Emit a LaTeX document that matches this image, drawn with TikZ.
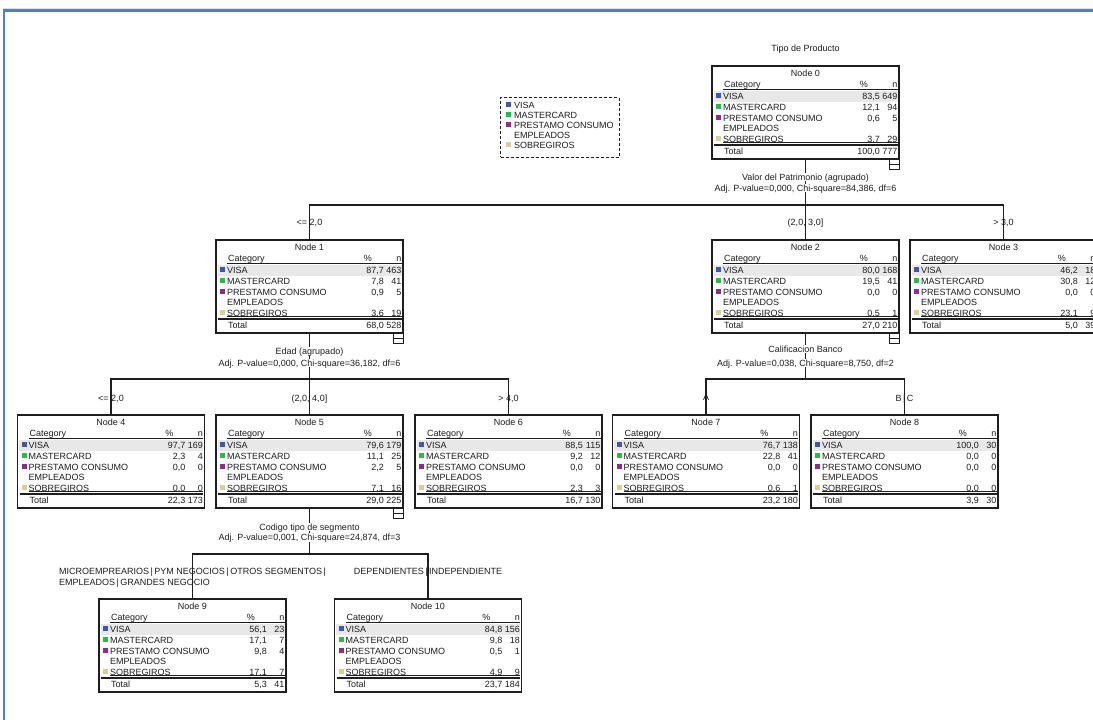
\documentclass[tikz,border=0pt]{standalone}
\usepackage{fontspec}
\setmainfont{Liberation Sans}
\usetikzlibrary{calc,positioning}
\definecolor{frame}{RGB}{79,129,189}
\definecolor{framelite}{RGB}{214,224,238}
\definecolor{ink}{RGB}{30,30,30}
\definecolor{band}{RGB}{232,232,232}
\definecolor{visa}{RGB}{62,88,172}
\definecolor{master}{RGB}{46,184,72}
\definecolor{prest}{RGB}{142,44,138}
\definecolor{sobre}{RGB}{214,208,156}
\tikzset{treebox/.style={draw=ink,line width=1.1pt,fill=white,minimum width=187pt,minimum height=93pt,
 anchor=north,inner sep=0pt,outer sep=0pt},
 cell/.style={font=\fontsize{9}{10}\selectfont,text=ink,inner sep=0pt,text height=6.5pt,text depth=0pt},
 rule/.style={draw=ink,line width=0.9pt},
 treeline/.style={draw=ink,line width=1.1pt},
 toggle/.style={draw=ink,line width=1pt,minimum size=10pt,inner sep=0pt,outer sep=0pt,anchor=north east}}
% one value row: node, offset from the top, percent, count
\newcommand{\tnvals}[4]{\node[cell,anchor=east] at ($(#1.north west)+(168,#2)$) {#3};
 \node[cell,anchor=east] at ($(#1.north west)+(185.5,#2)$) {#4};}
% name, position, number, four category rows and the total as {pct}{n}
\newcommand{\treenode}[8]{%
 \node[treebox] (#1) at (#2) {};
 \fill[band] ($(#1.north west)+(1.5,24.5)$) rectangle ($(#1.north east)+(-1.5,35.5)$);
 \node[cell] (#1-head) at ($(#1.north)+(0,7.5)$) {Node #3};
 \node[cell,anchor=west] (#1-cat) at ($(#1.north west)+(12,18)$) {Category};
 \node[cell,anchor=east] at ($(#1.north west)+(156,18)$) {\%};
 \node[cell,anchor=east] at ($(#1.north west)+(185.5,18)$) {n};
 \draw[rule] ($(#1.north west)+(11,23)$) -- ($(#1.north west)+(185.5,23)$);
 \foreach \lab/\dy/\col in {VISA/30/visa,MASTERCARD/41/master,PRESTAMO CONSUMO/52/prest,SOBREGIROS/73/sobre}{
  \fill[fill=\col] ($(#1.north west)+(4,\dy-3.5)$) rectangle +(5,5);
  \node[cell,anchor=west] at ($(#1.north west)+(11,\dy)$) {\lab};}
 \node[cell,anchor=west] at ($(#1.north west)+(11,62.5)$) {EMPLEADOS};
 \tnvals{#1}{30}#4 \tnvals{#1}{41}#5 \tnvals{#1}{52}#6 \tnvals{#1}{73}#7
 \draw[line width=0.7pt,draw=ink] ($(#1.north west)+(11,76.5)$) -- ($(#1.north west)+(185.5,76.5)$);
 \draw[rule,line width=1.3pt] ($(#1.north west)+(2,79)$) -- ($(#1.north west)+(185.5,79)$);
 \node[cell,anchor=west] at ($(#1.north west)+(12,85.5)$) {Total};
 \tnvals{#1}{85.5}#8}
\newcommand{\tntoggle}[1]{\node[toggle] (#1-tg) at (#1.south east) {};
 \draw[rule] (#1-tg.west) -- (#1-tg.east);}

\begin{document}
\begin{tikzpicture}[x=1pt,y=-1pt]
\useasboundingbox (0,0) rectangle (1093,720);
\clip (0,0) rectangle (1093,720);
\fill[white] (0,0) rectangle (1093,720);
% window frame
\draw[framelite,line width=0.8pt] (3,8.2) -- (1093,8.2);
\draw[frame,line width=2.4pt] (3,10.5) -- (1093,10.5);
\draw[frame,line width=1.9pt] (4.2,9.5) -- (4.2,720);

% legend
\node[draw=ink,dash pattern=on 3pt off 2pt,line width=1pt,minimum width=118.5pt,minimum height=59.5pt,
 anchor=north west,inner sep=0pt,outer sep=0pt] (legend) at (500.5,97.5) {};
\foreach \lab/\dy/\col in {VISA/7.5/visa,MASTERCARD/18/master,PRESTAMO CONSUMO/27.5/prest,SOBREGIROS/48/sobre}{
 \fill[fill=\col] ($(legend.north west)+(5.5,\dy-3.5)$) rectangle +(5,5);
 \node[cell,anchor=west] at ($(legend.north west)+(13.5,\dy)$) {\lab};}
\node[cell,anchor=west] at ($(legend.north west)+(13.5,37.5)$) {EMPLEADOS};

% tree nodes
\treenode{n0}{805.5,66}{0}{{83,5}{649}}{{12,1}{94}}{{0,6}{5}}{{3,7}{29}}{{100,0}{777}}
\treenode{n1}{309.5,240}{1}{{87,7}{463}}{{7,8}{41}}{{0,9}{5}}{{3,6}{19}}{{68,0}{528}}
\treenode{n2}{805.5,240}{2}{{80,0}{168}}{{19,5}{41}}{{0,0}{0}}{{0,5}{1}}{{27,0}{210}}
\treenode{n3}{1003.5,240}{3}{{46,2}{18}}{{30,8}{12}}{{0,0}{0}}{{23,1}{9}}{{5,0}{39}}
\treenode{n4}{111,415}{4}{{97,7}{169}}{{2,3}{4}}{{0,0}{0}}{{0,0}{0}}{{22,3}{173}}
\treenode{n5}{309.5,415}{5}{{79,6}{179}}{{11,1}{25}}{{2,2}{5}}{{7,1}{16}}{{29,0}{225}}
\treenode{n6}{508.5,415}{6}{{88,5}{115}}{{9,2}{12}}{{0,0}{0}}{{2,3}{3}}{{16,7}{130}}
\treenode{n7}{706,415}{7}{{76,7}{138}}{{22,8}{41}}{{0,0}{0}}{{0,6}{1}}{{23,2}{180}}
\treenode{n8}{904.5,415}{8}{{100,0}{30}}{{0,0}{0}}{{0,0}{0}}{{0,0}{0}}{{3,9}{30}}
\treenode{n9}{192.5,599}{9}{{56,1}{23}}{{17,1}{7}}{{9,8}{4}}{{17,1}{7}}{{5,3}{41}}
\treenode{n10}{428,599}{10}{{84,8}{156}}{{9,8}{18}}{{0,5}{1}}{{4,9}{9}}{{23,7}{184}}
\tntoggle{n0}\tntoggle{n1}\tntoggle{n2}\tntoggle{n5}

% splits
\coordinate (b0) at ($(n0.south)+(0,46)$);
\coordinate (b1) at ($(n1.south)+(0,46)$);
\coordinate (b2) at ($(n2.south)+(0,46)$);
\coordinate (b5) at ($(n5.south)+(0,46)$);
\draw[treeline] (n0.south) -- (b0) (n1.north) |- (b0) -| (n3.north) (b0) -- (n2.north);
\draw[treeline] (n1.south) -- (b1) (n4.north) |- (b1) -| (n6.north) (b1) -- (n5.north);
\draw[treeline] (n2.south) -- (b2) (n7.north) |- (b2) -| (n8.north);
\draw[treeline] (n5.south) -- (b5) (n9.north) |- (b5) -| (n10.north);

\node[cell] (title) at ($(n0.north)+(0,-18)$) {Tipo de Producto};
\node[cell,fill=white,inner sep=1pt] (s0) at ($(n0.south)+(0,18)$) {Valor del Patrimonio (agrupado)};
\node[cell,fill=white,inner sep=1pt] (t0) at ($(n0.south)+(0,29)$) {Adj. P-value=0,000, Chi-square=84,386, df=6};
\node[cell,fill=white,inner sep=1pt] (s1) at ($(n1.south)+(0,18)$) {Edad (agrupado)};
\node[cell,fill=white,inner sep=1pt] (t1) at ($(n1.south)+(0,30)$) {Adj. P-value=0,000, Chi-square=36,182, df=6};
\node[cell,fill=white,inner sep=1pt] (s2) at ($(n2.south)+(0,16)$) {Calificacion Banco};
\node[cell,fill=white,inner sep=1pt] (t2) at ($(n2.south)+(0,30)$) {Adj. P-value=0,038, Chi-square=8,750, df=2};
\node[cell,fill=white,inner sep=1pt] (s5) at ($(n5.south)+(0,19)$) {Codigo tipo de segmento};
\node[cell,fill=white,inner sep=1pt] (t5) at ($(n5.south)+(0,29.5)$) {Adj. P-value=0,001, Chi-square=24,874, df=3};

% branch labels
\node[cell] (l1) at ($(n1.north)+(0,-18)$) {<= 2,0};
\node[cell] (l2) at ($(n2.north)+(0,-18)$) {(2,0, 3,0]};
\node[cell] (l3) at ($(n3.north)+(0,-18)$) {> 3,0};
\node[cell] (l4) at ($(n4.north)+(0,-17)$) {<= 2,0};
\node[cell] (l5) at ($(n5.north)+(0,-17)$) {(2,0, 4,0]};
\node[cell] (l6) at ($(n6.north)+(0,-17)$) {> 4,0};
\node[cell] (l7) at ($(n7.north)+(0,-18)$) {A};
\node[cell] (l8) at ($(n8.north)+(0,-17)$) {B\,|\,C};
\node[cell,text height=,align=left,font=\fontsize{9}{11}\selectfont,anchor=north] (l9) at ($(n9.north)+(0,-31.5)$)
 {MICROEMPREARIOS\,|\,PYM NEGOCIOS\,|\,OTROS SEGMENTOS\,|\\EMPLEADOS\,|\,GRANDES NEGOCIO};
\node[cell] (l10) at ($(n10.north)+(0,-28)$) {DEPENDIENTES\,|\,INDEPENDIENTE};
\end{tikzpicture}
\end{document}
